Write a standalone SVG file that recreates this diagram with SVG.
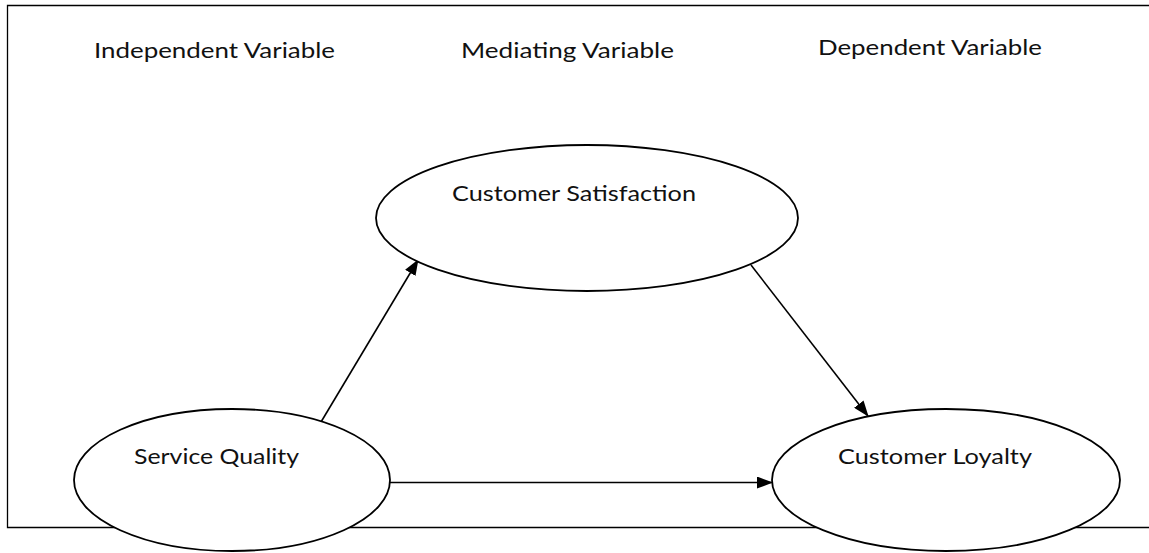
<svg xmlns="http://www.w3.org/2000/svg" width="1149" height="553" viewBox="0 0 1149 553">
  <style>
    .frame { fill: none; stroke: #000; stroke-width: 1.3; }
    .node ellipse { fill: #fff; stroke: #000; stroke-width: 1.8; }
    .label { font-family: Lato, "Open Sans", "Liberation Sans", sans-serif; font-size: 21px; fill: #111; }
    .edge { stroke: #000; stroke-width: 1.6; fill: none; marker-end: url(#arrow); }
  </style>
  <defs>
    <marker id="arrow" markerUnits="userSpaceOnUse" markerWidth="16" markerHeight="12" viewBox="0 0 16 12" refX="15" refY="6" orient="auto">
      <path d="M0,0 L16,6 L0,12 Z" fill="#000"/>
    </marker>
  </defs>
  <rect width="1149" height="553" fill="#fff"/>

  <!-- open frame: top, left and bottom sides -->
  <path class="frame" d="M1149,5.5 H7.5 V527.5 H1149"/>

  <!-- column headings -->
  <g id="headings">
    <text class="label" x="94" y="57.5" textLength="241" lengthAdjust="spacingAndGlyphs">Independent Variable</text>
    <text class="label" x="461" y="57.5" textLength="213" lengthAdjust="spacingAndGlyphs">Mediating Variable</text>
    <text class="label" x="818" y="55" textLength="224" lengthAdjust="spacingAndGlyphs">Dependent Variable</text>
  </g>

  <!-- connectors -->
  <g id="connectors">
    <line class="edge" x1="321" y1="422" x2="418" y2="260"/>
    <line class="edge" x1="751" y1="265" x2="868" y2="416"/>
    <line class="edge" x1="390" y1="482.5" x2="772" y2="482.5"/>
  </g>

  <g id="customer-satisfaction" class="node">
    <ellipse cx="587" cy="218" rx="211" ry="73"/>
    <text class="label" x="452" y="200.5" textLength="244" lengthAdjust="spacingAndGlyphs">Customer Satisfaction</text>
  </g>

  <g id="service-quality" class="node">
    <ellipse cx="232" cy="480" rx="158" ry="71"/>
    <text class="label" x="134" y="464" textLength="165" lengthAdjust="spacingAndGlyphs">Service Quality</text>
  </g>

  <g id="customer-loyalty" class="node">
    <ellipse cx="946" cy="480" rx="174" ry="71"/>
    <text class="label" x="838" y="464" textLength="194" lengthAdjust="spacingAndGlyphs">Customer Loyalty</text>
  </g>
</svg>
